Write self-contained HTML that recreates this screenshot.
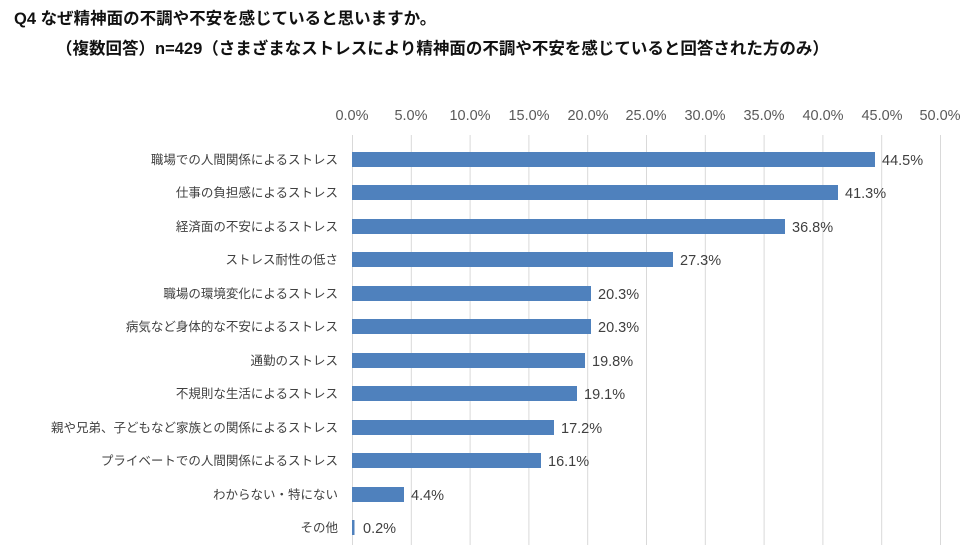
<!DOCTYPE html>
<html><head><meta charset="utf-8"><style>
body{margin:0;background:#fff;}
svg{display:block;font-family:"Liberation Sans","Noto Sans CJK JP",sans-serif;}
</style></head><body>
<svg width="980" height="553" viewBox="0 0 980 553">
<text x="14" y="24" font-size="16.5" font-weight="bold" fill="#111">Q4 なぜ精神面の不調や不安を感じていると思いますか。</text>
<text x="56" y="54" font-size="16.5" font-weight="bold" fill="#111">（複数回答）n=429（さまざまなストレスにより精神面の不調や不安を感じていると回答された方のみ）</text>
<g stroke="#d9d9d9" stroke-width="1">
<line x1="352.5" y1="135" x2="352.5" y2="545"/><line x1="411.3" y1="135" x2="411.3" y2="545"/><line x1="470.1" y1="135" x2="470.1" y2="545"/><line x1="528.9" y1="135" x2="528.9" y2="545"/><line x1="587.7" y1="135" x2="587.7" y2="545"/><line x1="646.5" y1="135" x2="646.5" y2="545"/><line x1="705.3" y1="135" x2="705.3" y2="545"/><line x1="764.1" y1="135" x2="764.1" y2="545"/><line x1="822.9" y1="135" x2="822.9" y2="545"/><line x1="881.7" y1="135" x2="881.7" y2="545"/><line x1="940.5" y1="135" x2="940.5" y2="545"/>
</g>
<g font-size="14.5" fill="#595959" text-anchor="middle">
<text x="352" y="120">0.0%</text><text x="411" y="120">5.0%</text><text x="470" y="120">10.0%</text><text x="529" y="120">15.0%</text><text x="588" y="120">20.0%</text><text x="646" y="120">25.0%</text><text x="705" y="120">30.0%</text><text x="764" y="120">35.0%</text><text x="823" y="120">40.0%</text><text x="882" y="120">45.0%</text><text x="940" y="120">50.0%</text>
</g>
<g fill="#4f81bd">
<rect x="352" y="152" width="523" height="15"/>
<rect x="352" y="185" width="486" height="15"/>
<rect x="352" y="219" width="433" height="15"/>
<rect x="352" y="252" width="321" height="15"/>
<rect x="352" y="286" width="239" height="15"/>
<rect x="352" y="319" width="239" height="15"/>
<rect x="352" y="353" width="233" height="15"/>
<rect x="352" y="386" width="225" height="15"/>
<rect x="352" y="420" width="202" height="15"/>
<rect x="352" y="453" width="189" height="15"/>
<rect x="352" y="487" width="52" height="15"/>
<rect x="352" y="520" width="2.5" height="15"/>
</g>
<g font-size="14.5" fill="#404040">
<text x="882" y="165">44.5%</text>
<text x="845" y="198">41.3%</text>
<text x="792" y="232">36.8%</text>
<text x="680" y="265">27.3%</text>
<text x="598" y="299">20.3%</text>
<text x="598" y="332">20.3%</text>
<text x="592" y="366">19.8%</text>
<text x="584" y="399">19.1%</text>
<text x="561" y="433">17.2%</text>
<text x="548" y="466">16.1%</text>
<text x="411" y="500">4.4%</text>
<text x="363" y="533">0.2%</text>
</g>
<g font-size="12.5" fill="#404040" text-anchor="end">
<text x="338" y="164">職場での人間関係によるストレス</text>
<text x="338" y="197">仕事の負担感によるストレス</text>
<text x="338" y="231">経済面の不安によるストレス</text>
<text x="338" y="264">ストレス耐性の低さ</text>
<text x="338" y="298">職場の環境変化によるストレス</text>
<text x="338" y="331">病気など身体的な不安によるストレス</text>
<text x="338" y="365">通勤のストレス</text>
<text x="338" y="398">不規則な生活によるストレス</text>
<text x="338" y="432">親や兄弟、子どもなど家族との関係によるストレス</text>
<text x="338" y="465">プライベートでの人間関係によるストレス</text>
<text x="338" y="499">わからない・特にない</text>
<text x="338" y="532">その他</text>
</g>
</svg>
</body></html>
